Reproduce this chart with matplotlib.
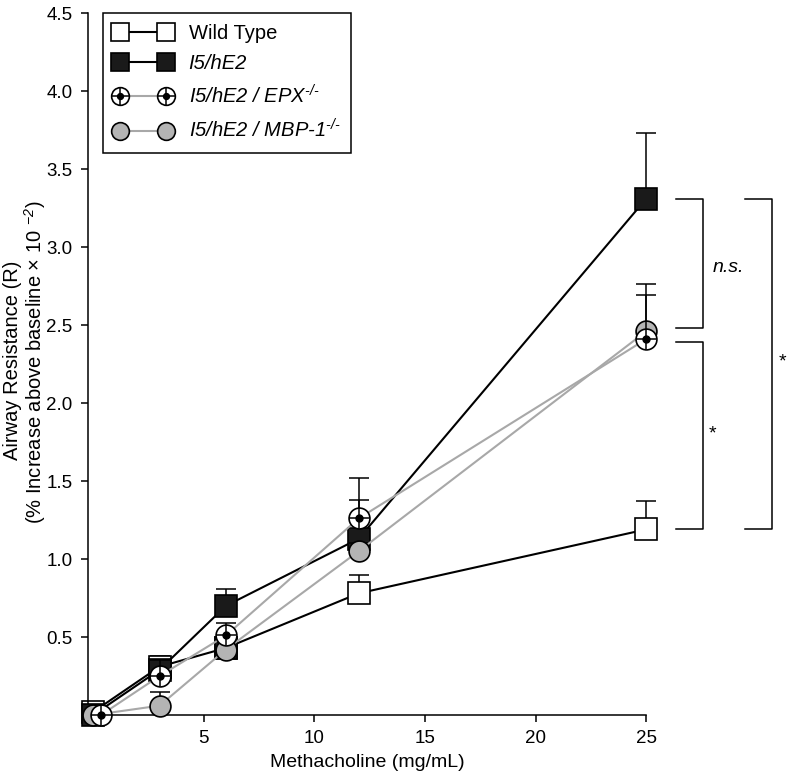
import numpy as np
import matplotlib
matplotlib.use('Agg')
import matplotlib.pyplot as plt
from matplotlib.legend_handler import HandlerTuple

plt.rcParams['font.family'] = ['Liberation Sans', 'DejaVu Sans']
plt.rcParams['mathtext.fontset'] = 'custom'
plt.rcParams['mathtext.rm'] = 'Liberation Sans:italic'
plt.rcParams['mathtext.it'] = 'Liberation Sans:italic'

# data
dose = [0, 3, 6, 12, 25]
dose_epx = [0.35, 3, 6, 12, 25]
wt = [0.02, 0.31, 0.43, 0.78, 1.19]
wt_err = [0.0, 0.07, 0.04, 0.12, 0.18]
i5 = [0.0, 0.29, 0.70, 1.13, 3.31]
i5_err = [0.0, 0.05, 0.11, 0.25, 0.42]
epx = [0.0, 0.25, 0.51, 1.26, 2.41]
epx_err = [0.0, 0.10, 0.08, 0.26, 0.28]
mbp = [0.0, 0.06, 0.42, 1.05, 2.46]
mbp_err = [0.0, 0.09, 0.05, 0.05, 0.30]

labels = ['Wild Type', 'I5/hE2', r'I5/hE2 / EPX$^{\text{-/-}}$',
          r'I5/hE2 / MBP-1$^{\text{-/-}}$']
yticks = [0.5, 1.0, 1.5, 2.0, 2.5, 3.0, 3.5, 4.0, 4.5]
xticks = [5, 10, 15, 20, 25]

fig = plt.figure(figsize=(7.9, 7.8), dpi=100)
ax = fig.add_axes([0.111, 0.0833, 0.707, 0.9])

gray = '#a8a8a8'
lw = 1.5
ms_sq = 16
ms_c = 15

def upper_err(x, y, e, z):
  ax.errorbar(x, y, yerr=[np.zeros(len(e)), e], fmt='none', ecolor='black',
              elinewidth=1.1, capsize=7, capthick=1.1, zorder=z, clip_on=False)

upper_err(dose, wt, wt_err, 1)
h_wt, = ax.plot(dose, wt, color='black', lw=lw, marker='s', ms=ms_sq, mfc='white',
                mec='black', mew=1.2, zorder=2, clip_on=False)
# the 6 mg/mL wild type point shows filled in the original
ax.plot(dose[2], wt[2], marker='s', ms=ms_sq, mfc='#1a1a1a', mec='black', mew=1.2,
        zorder=2, clip_on=False)

upper_err(dose, i5, i5_err, 3)
h_i5, = ax.plot(dose, i5, color='black', lw=lw, marker='s', ms=ms_sq, mfc='#1a1a1a',
                mec='black', mew=1.2, zorder=4, clip_on=False)

upper_err(dose, mbp, mbp_err, 5)
h_mbp, = ax.plot(dose, mbp, color=gray, lw=lw, marker='o', ms=ms_c, mfc='#b4b4b4',
                 mec='black', mew=1.2, zorder=6, clip_on=False)

upper_err(dose_epx, epx, epx_err, 7)
h_epx, = ax.plot(dose_epx, epx, color=gray, lw=lw, marker='o', ms=ms_c, mfc='white',
                 mec='black', mew=1.2, zorder=8, clip_on=False)
h_epx2, = ax.plot(dose_epx, epx, ls='none', marker='+', ms=ms_c, mec='black', mew=1.1,
                  zorder=9, clip_on=False)
h_epx3, = ax.plot(dose_epx, epx, ls='none', marker='o', ms=5, mfc='black', mec='black',
                  zorder=9, clip_on=False)

ax.set_xlim(-0.25, 25)
ax.set_ylim(0, 4.5)
ax.set_xticks(xticks)
ax.set_yticks(yticks)
ax.set_yticklabels(['%.1f' % t for t in yticks])
ax.spines['top'].set_visible(False)
ax.spines['right'].set_visible(False)
ax.spines['left'].set_linewidth(1.1)
ax.spines['bottom'].set_linewidth(1.1)
ax.tick_params(direction='out', length=5, width=1.1, labelsize=13.5, pad=6)
ax.set_xlabel('Methacholine (mg/mL)', fontsize=14, labelpad=5)

fig.text(0.016, 0.538, 'Airway Resistance (R)', rotation=90, ha='center', va='center',
         fontsize=14.5)
fig.text(0.045, 0.535, '(% Increase above baseline \u00d7 10 $^{\u2212 2}$)', rotation=90,
         ha='center', va='center', fontsize=14.5)

# significance brackets
def bracket(x0, x1, y0, y1, text, tx, ty, style='normal'):
  ax.plot([x0, x1, x1, x0], [y0, y0, y1, y1], color='black', lw=1.1, clip_on=False)
  ax.text(tx, ty, text, fontsize=14, style=style, ha='center', va='center')

bracket(26.35, 27.55, i5[4], mbp[4] + 0.02, 'n.s.', 28.7, 2.87, 'italic')
bracket(26.35, 27.55, epx[4] - 0.02, wt[4], '*', 28.0, 1.8)
bracket(29.45, 30.7, i5[4], wt[4], '*', 31.15, 2.26)

leg = ax.legend([h_wt, h_i5, (h_epx, h_epx2, h_epx3), h_mbp], labels,
                handler_map={tuple: HandlerTuple(ndivide=1)},
                loc='upper left', bbox_to_anchor=(103 / 790, 1 - 13 / 780),
                bbox_transform=fig.transFigure, numpoints=2, handlelength=2.9,
                fontsize=14.5, frameon=True, fancybox=False, edgecolor='black',
                framealpha=1, labelspacing=0.55, borderpad=0.55, handletextpad=0.8,
                borderaxespad=0, markerscale=0.85)
leg.get_frame().set_linewidth(1.1)
for t in leg.get_texts()[1:]:
  t.set_style('italic')

fig.savefig('out.png', dpi=100)
